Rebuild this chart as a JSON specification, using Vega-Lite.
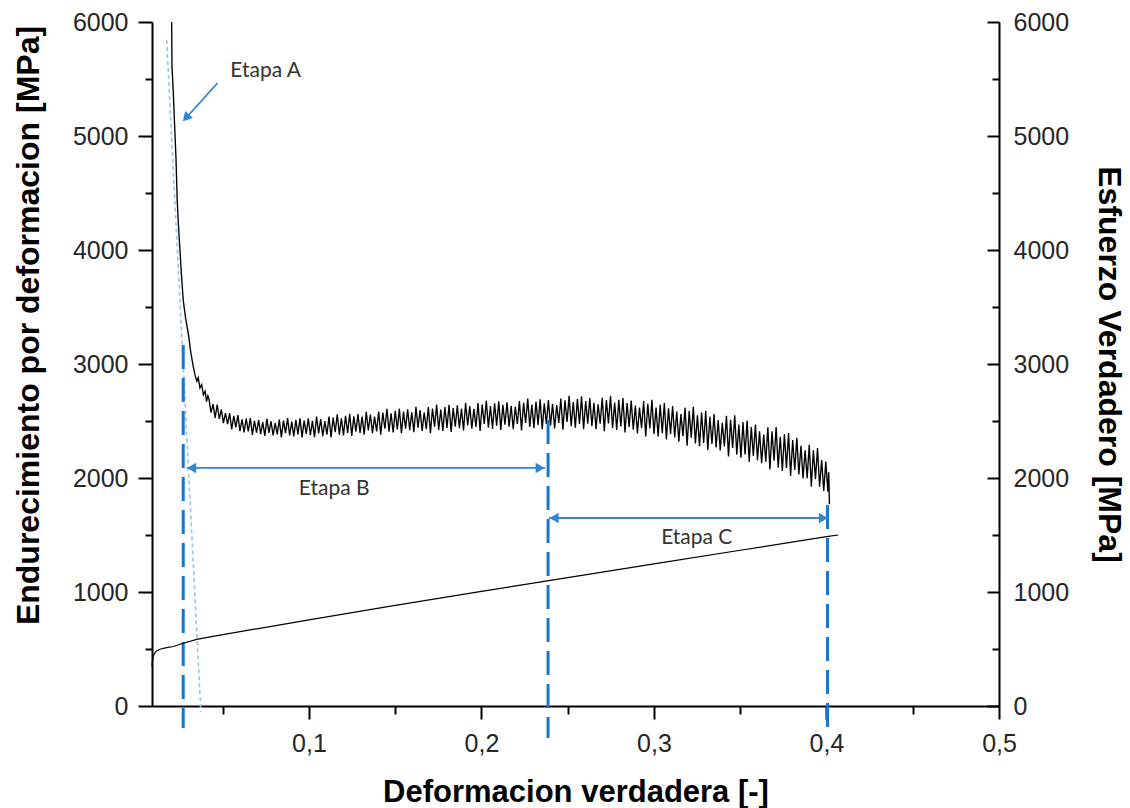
{
  "$schema": "https://vega.github.io/schema/vega-lite/v6.json",
  "width": 847,
  "height": 684,
  "autosize": "none",
  "padding": {"left": 152, "top": 22, "right": 131, "bottom": 102},
  "background": "white",
  "config": {
    "view": {"stroke": null},
    "axis": {
      "domainColor": "black", "domainWidth": 2, "tickColor": "black", "tickWidth": 2,
      "labelFont": "Liberation Sans", "labelFontSize": 25, "labelColor": "#262626",
      "titleFont": "Liberation Sans", "titleFontSize": 32, "titleFontWeight": "bold", "titleColor": "black",
      "grid": false, "labelOverlap": false, "labelFlush": false, "labelBound": false
    }
  },
  "datasets": {
    "hard": [
      {"x":0.0204,"y":6000},{"x":0.0206,"y":5600},{"x":0.0213,"y":5400},{"x":0.0219,"y":5170},{"x":0.0229,"y":4810},{"x":0.0236,"y":4440},{"x":0.0244,"y":4200},{"x":0.0252,"y":4000},{"x":0.0262,"y":3750},{"x":0.0271,"y":3560},{"x":0.0285,"y":3400},{"x":0.0300,"y":3270},{"x":0.0315,"y":3100},{"x":0.0329,"y":2980},{"x":0.0340,"y":2900},{"x":0.0350,"y":2850},{"x":0.0358,"y":2880},{"x":0.0368,"y":2790},{"x":0.0378,"y":2820},{"x":0.0388,"y":2730},{"x":0.0398,"y":2760},{"x":0.0406,"y":2670},{"x":0.0414,"y":2720},
      {"x":0.0420,"y":2695},{"x":0.0432,"y":2574},{"x":0.0444,"y":2648},{"x":0.0456,"y":2528},{"x":0.0468,"y":2644},{"x":0.0480,"y":2518},{"x":0.0492,"y":2602},{"x":0.0504,"y":2482},{"x":0.0516,"y":2568},{"x":0.0528,"y":2472},{"x":0.0540,"y":2568},{"x":0.0552,"y":2426},{"x":0.0564,"y":2545},{"x":0.0576,"y":2445},{"x":0.0588,"y":2551},{"x":0.0600,"y":2411},{"x":0.0612,"y":2514},{"x":0.0624,"y":2399},{"x":0.0636,"y":2521},{"x":0.0648,"y":2408},{"x":0.0660,"y":2525},{"x":0.0672,"y":2378},{"x":0.0684,"y":2501},{"x":0.0696,"y":2397},{"x":0.0708,"y":2510},{"x":0.0720,"y":2385},{"x":0.0732,"y":2490},{"x":0.0744,"y":2370},{"x":0.0756,"y":2518},{"x":0.0768,"y":2396},{"x":0.0780,"y":2498},{"x":0.0792,"y":2374},{"x":0.0804,"y":2481},{"x":0.0816,"y":2382},{"x":0.0828,"y":2512},{"x":0.0840,"y":2357},{"x":0.0852,"y":2503},{"x":0.0864,"y":2394},{"x":0.0876,"y":2525},{"x":0.0888,"y":2373},{"x":0.0900,"y":2494},{"x":0.0912,"y":2365},{"x":0.0924,"y":2510},{"x":0.0936,"y":2383},{"x":0.0948,"y":2523},{"x":0.0960,"y":2357},{"x":0.0972,"y":2504},{"x":0.0984,"y":2386},{"x":0.0996,"y":2523},{"x":0.1008,"y":2375},{"x":0.1020,"y":2501},{"x":0.1032,"y":2359},{"x":0.1044,"y":2539},{"x":0.1056,"y":2391},{"x":0.1068,"y":2516},{"x":0.1080,"y":2368},{"x":0.1092,"y":2498},{"x":0.1104,"y":2381},{"x":0.1116,"y":2538},{"x":0.1128,"y":2355},{"x":0.1140,"y":2530},{"x":0.1152,"y":2402},{"x":0.1164,"y":2559},{"x":0.1176,"y":2379},{"x":0.1188,"y":2524},{"x":0.1200,"y":2374},{"x":0.1212,"y":2546},{"x":0.1224,"y":2396},{"x":0.1236,"y":2563},{"x":0.1248,"y":2369},{"x":0.1260,"y":2540},{"x":0.1272,"y":2407},{"x":0.1284,"y":2561},{"x":0.1296,"y":2396},{"x":0.1308,"y":2538},{"x":0.1320,"y":2380},{"x":0.1332,"y":2581},{"x":0.1344,"y":2418},{"x":0.1356,"y":2557},{"x":0.1368,"y":2393},{"x":0.1380,"y":2538},{"x":0.1392,"y":2409},{"x":0.1404,"y":2583},{"x":0.1416,"y":2380},{"x":0.1428,"y":2573},{"x":0.1440,"y":2432},{"x":0.1452,"y":2606},{"x":0.1464,"y":2407},{"x":0.1476,"y":2568},{"x":0.1488,"y":2399},{"x":0.1500,"y":2590},{"x":0.1512,"y":2425},{"x":0.1524,"y":2608},{"x":0.1536,"y":2393},{"x":0.1548,"y":2582},{"x":0.1560,"y":2432},{"x":0.1572,"y":2603},{"x":0.1584,"y":2420},{"x":0.1596,"y":2577},{"x":0.1608,"y":2401},{"x":0.1620,"y":2624},{"x":0.1632,"y":2441},{"x":0.1644,"y":2596},{"x":0.1656,"y":2412},{"x":0.1668,"y":2574},{"x":0.1680,"y":2428},{"x":0.1692,"y":2622},{"x":0.1704,"y":2394},{"x":0.1716,"y":2610},{"x":0.1728,"y":2451},{"x":0.1740,"y":2644},{"x":0.1752,"y":2421},{"x":0.1764,"y":2600},{"x":0.1776,"y":2412},{"x":0.1788,"y":2623},{"x":0.1800,"y":2440},{"x":0.1812,"y":2643},{"x":0.1824,"y":2405},{"x":0.1836,"y":2613},{"x":0.1848,"y":2450},{"x":0.1860,"y":2638},{"x":0.1872,"y":2436},{"x":0.1884,"y":2608},{"x":0.1896,"y":2417},{"x":0.1908,"y":2660},{"x":0.1920,"y":2461},{"x":0.1932,"y":2630},{"x":0.1944,"y":2432},{"x":0.1956,"y":2606},{"x":0.1968,"y":2449},{"x":0.1980,"y":2657},{"x":0.1992,"y":2413},{"x":0.2004,"y":2644},{"x":0.2016,"y":2474},{"x":0.2028,"y":2679},{"x":0.2040,"y":2442},{"x":0.2052,"y":2631},{"x":0.2064,"y":2431},{"x":0.2076,"y":2655},{"x":0.2088,"y":2459},{"x":0.2100,"y":2673},{"x":0.2112,"y":2422},{"x":0.2124,"y":2641},{"x":0.2136,"y":2467},{"x":0.2148,"y":2665},{"x":0.2160,"y":2451},{"x":0.2172,"y":2634},{"x":0.2184,"y":2429},{"x":0.2196,"y":2624},{"x":0.2208,"y":2474},{"x":0.2220,"y":2676},{"x":0.2232,"y":2418},{"x":0.2244,"y":2660},{"x":0.2256,"y":2482},{"x":0.2268,"y":2696},{"x":0.2280,"y":2448},{"x":0.2292,"y":2645},{"x":0.2304,"y":2437},{"x":0.2316,"y":2671},{"x":0.2328,"y":2466},{"x":0.2340,"y":2691},{"x":0.2352,"y":2427},{"x":0.2364,"y":2656},{"x":0.2376,"y":2474},{"x":0.2388,"y":2683},{"x":0.2400,"y":2458},{"x":0.2412,"y":2650},{"x":0.2424,"y":2435},{"x":0.2436,"y":2640},{"x":0.2448,"y":2483},{"x":0.2460,"y":2696},{"x":0.2472,"y":2423},{"x":0.2484,"y":2681},{"x":0.2496,"y":2491},{"x":0.2508,"y":2720},{"x":0.2520,"y":2454},{"x":0.2532,"y":2667},{"x":0.2544,"y":2442},{"x":0.2556,"y":2694},{"x":0.2568,"y":2474},{"x":0.2580,"y":2716},{"x":0.2592,"y":2427},{"x":0.2604,"y":2676},{"x":0.2616,"y":2477},{"x":0.2628,"y":2701},{"x":0.2640,"y":2455},{"x":0.2652,"y":2660},{"x":0.2664,"y":2428},{"x":0.2676,"y":2647},{"x":0.2688,"y":2477},{"x":0.2700,"y":2704},{"x":0.2712,"y":2410},{"x":0.2724,"y":2683},{"x":0.2736,"y":2479},{"x":0.2748,"y":2720},{"x":0.2760,"y":2439},{"x":0.2772,"y":2661},{"x":0.2784,"y":2422},{"x":0.2796,"y":2685},{"x":0.2808,"y":2452},{"x":0.2820,"y":2702},{"x":0.2832,"y":2400},{"x":0.2844,"y":2658},{"x":0.2856,"y":2448},{"x":0.2868,"y":2680},{"x":0.2880,"y":2423},{"x":0.2892,"y":2635},{"x":0.2904,"y":2390},{"x":0.2916,"y":2618},{"x":0.2928,"y":2438},{"x":0.2940,"y":2676},{"x":0.2952,"y":2365},{"x":0.2964,"y":2651},{"x":0.2976,"y":2434},{"x":0.2988,"y":2687},{"x":0.3000,"y":2387},{"x":0.3012,"y":2619},{"x":0.3024,"y":2365},{"x":0.3036,"y":2642},{"x":0.3048,"y":2394},{"x":0.3060,"y":2658},{"x":0.3072,"y":2338},{"x":0.3084,"y":2611},{"x":0.3096,"y":2386},{"x":0.3108,"y":2632},{"x":0.3120,"y":2356},{"x":0.3132,"y":2582},{"x":0.3144,"y":2319},{"x":0.3156,"y":2560},{"x":0.3168,"y":2367},{"x":0.3180,"y":2617},{"x":0.3192,"y":2284},{"x":0.3204,"y":2587},{"x":0.3216,"y":2354},{"x":0.3228,"y":2625},{"x":0.3240,"y":2302},{"x":0.3252,"y":2551},{"x":0.3264,"y":2279},{"x":0.3276,"y":2574},{"x":0.3288,"y":2307},{"x":0.3300,"y":2590},{"x":0.3312,"y":2246},{"x":0.3324,"y":2538},{"x":0.3336,"y":2298},{"x":0.3348,"y":2561},{"x":0.3360,"y":2267},{"x":0.3372,"y":2509},{"x":0.3384,"y":2242},{"x":0.3396,"y":2484},{"x":0.3408,"y":2277},{"x":0.3420,"y":2545},{"x":0.3432,"y":2188},{"x":0.3444,"y":2511},{"x":0.3456,"y":2263},{"x":0.3468,"y":2550},{"x":0.3480,"y":2205},{"x":0.3492,"y":2468},{"x":0.3504,"y":2178},{"x":0.3516,"y":2490},{"x":0.3528,"y":2207},{"x":0.3540,"y":2505},{"x":0.3552,"y":2140},{"x":0.3564,"y":2446},{"x":0.3576,"y":2193},{"x":0.3588,"y":2468},{"x":0.3600,"y":2157},{"x":0.3612,"y":2409},{"x":0.3624,"y":2130},{"x":0.3636,"y":2382},{"x":0.3648,"y":2142},{"x":0.3660,"y":2444},{"x":0.3672,"y":2074},{"x":0.3684,"y":2410},{"x":0.3696,"y":2151},{"x":0.3708,"y":2448},{"x":0.3720,"y":2091},{"x":0.3732,"y":2362},{"x":0.3744,"y":2062},{"x":0.3756,"y":2383},{"x":0.3768,"y":2089},{"x":0.3780,"y":2394},{"x":0.3792,"y":2018},{"x":0.3804,"y":2333},{"x":0.3816,"y":2070},{"x":0.3828,"y":2352},{"x":0.3840,"y":2031},{"x":0.3852,"y":2283},{"x":0.3864,"y":1995},{"x":0.3876,"y":2244},{"x":0.3888,"y":1999},{"x":0.3900,"y":2291},{"x":0.3912,"y":1924},{"x":0.3924,"y":2242},{"x":0.3936,"y":1990},{"x":0.3948,"y":2262},{"x":0.3960,"y":1924},{"x":0.3972,"y":2157},{"x":0.3984,"y":1886},{"x":0.3996,"y":2144},{"x":0.4008,"y":1880},{"x":0.4013,"y":2050},{"x":0.4017,"y":1770}
    ],
    "stress": [
      {"x":0.0090,"y":345},{"x":0.0092,"y":390},{"x":0.0096,"y":430},{"x":0.0104,"y":462},{"x":0.0118,"y":485},{"x":0.0140,"y":500},{"x":0.0175,"y":512},{"x":0.0213,"y":522},{"x":0.0271,"y":550},{"x":0.0349,"y":585},{"x":0.05,"y":626},{"x":0.1,"y":755},{"x":0.15,"y":882},{"x":0.2,"y":1005},{"x":0.25,"y":1126},{"x":0.3,"y":1246},{"x":0.35,"y":1366},{"x":0.4,"y":1485},{"x":0.4068,"y":1500}
    ]
  },
  "layer": [
    {
      "layer": [
        {
          "data": {"name": "hard"},
          "mark": {"type": "line", "color": "black", "strokeWidth": 1.35, "clip": true},
          "encoding": {
            "x": {"field": "x", "type": "quantitative", "scale": {"domain": [0.009, 0.5], "nice": false, "zero": false},
              "axis": {"title": "Deformacion verdadera [-]", "values": [0.05,0.1,0.15,0.2,0.25,0.3,0.35,0.4,0.45,0.5],
                "labelExpr": "round(datum.value*100)%10==0 ? replace(format(datum.value,'.1f'),'.',',') : ''",
                "tickSize": {"condition": {"test": "round(datum.value*100)%10!=0", "value": 8}, "value": 13},
                "labelPadding": 12, "titleFontSize": 31, "titleBaseline": "alphabetic", "titleY": 95}},
            "y": {"field": "y", "type": "quantitative", "scale": {"domain": [0, 6000], "nice": false, "zero": false},
              "axis": {"title": "Endurecimiento por deformacion [MPa]", "values": [0,500,1000,1500,2000,2500,3000,3500,4000,4500,5000,5500,6000],
                "labelExpr": "datum.value%1000==0 ? format(datum.value,'d') : ''",
                "tickSize": {"condition": {"test": "datum.value%1000!=0", "value": 7}, "value": 14},
                "labelPadding": 10, "titleBaseline": "alphabetic", "titleX": -114, "titleY": 303}}
          }
        },
        {
          "data": {"values": [{"x": 0.0175, "y": 5842, "x2": 0.0373, "y2": -53}]},
          "mark": {"type": "rule", "color": "#9cc3ea", "strokeWidth": 1.6, "strokeDash": [4, 3], "clip": false},
          "encoding": {
            "x": {"field": "x", "type": "quantitative"},
            "x2": {"field": "x2"},
            "y": {"field": "y", "type": "quantitative"},
            "y2": {"field": "y2"}
          }
        },
        {
          "data": {"values": [{"x": 0.0271, "y": 3167, "y2": -193}, {"x": 0.2386, "y": 2509, "y2": -280}, {"x": 0.4006, "y": 1763, "y2": -210}]},
          "mark": {"type": "rule", "color": "#1b75cc", "strokeWidth": 3, "strokeDash": [24, 9], "clip": false},
          "encoding": {
            "x": {"field": "x", "type": "quantitative"},
            "y": {"field": "y", "type": "quantitative"},
            "y2": {"field": "y2"}
          }
        },
        {
          "data": {"values": [
            {"x": 0.0291, "x2": 0.2369, "y": 2088, "y2": 2088},
            {"x": 0.2392, "x2": 0.4011, "y": 1649, "y2": 1649},
            {"x": 0.0470, "x2": 0.0287, "y": 5465, "y2": 5158}
          ]},
          "mark": {"type": "rule", "color": "#2e86d6", "strokeWidth": 1.8, "clip": false},
          "encoding": {
            "x": {"field": "x", "type": "quantitative"},
            "x2": {"field": "x2"},
            "y": {"field": "y", "type": "quantitative"},
            "y2": {"field": "y2"}
          }
        },
        {
          "data": {"values": [
            {"x": 0.0320, "y": 2088, "shape": "triangle-left", "angle": 0},
            {"x": 0.2340, "y": 2088, "shape": "triangle-right", "angle": 0},
            {"x": 0.2421, "y": 1649, "shape": "triangle-left", "angle": 0},
            {"x": 0.3982, "y": 1649, "shape": "triangle-right", "angle": 0},
            {"x": 0.0287, "y": 5158, "shape": "triangle-up", "angle": 222}
          ]},
          "mark": {"type": "point", "filled": true, "color": "#2e86d6", "opacity": 1, "size": 110, "clip": false},
          "encoding": {
            "x": {"field": "x", "type": "quantitative"},
            "y": {"field": "y", "type": "quantitative"},
            "shape": {"field": "shape", "type": "nominal", "scale": null},
            "angle": {"field": "angle", "type": "quantitative", "scale": null}
          }
        },
        {
          "data": {"values": [
            {"x": 0.0749, "y": 5570, "t": "Etapa A"},
            {"x": 0.1146, "y": 1904, "t": "Etapa B"},
            {"x": 0.3248, "y": 1474, "t": "Etapa C"}
          ]},
          "mark": {"type": "text", "font": "Lato", "fontSize": 21, "color": "#333333", "align": "center", "baseline": "middle"},
          "encoding": {
            "x": {"field": "x", "type": "quantitative"},
            "y": {"field": "y", "type": "quantitative"},
            "text": {"field": "t", "type": "nominal"}
          }
        }
      ]
    },
    {
      "data": {"name": "stress"},
      "mark": {"type": "line", "color": "black", "strokeWidth": 1.2},
      "encoding": {
        "x": {"field": "x", "type": "quantitative"},
        "y": {"field": "y", "type": "quantitative", "scale": {"domain": [0, 6000], "nice": false, "zero": false},
          "axis": {"orient": "right", "title": "Esfuerzo Verdadero [MPa]", "values": [0,500,1000,1500,2000,2500,3000,3500,4000,4500,5000,5500,6000],
            "labelExpr": "datum.value%1000==0 ? format(datum.value,'d') : ''",
            "tickSize": {"condition": {"test": "datum.value%1000!=0", "value": -7}, "value": -12},
            "labelPadding": 26, "labelAlign": "left", "titleBaseline": "alphabetic", "titleAngle": 90, "titleX": 99}}
      }
    }
  ],
  "resolve": {"scale": {"y": "independent"}}
}
